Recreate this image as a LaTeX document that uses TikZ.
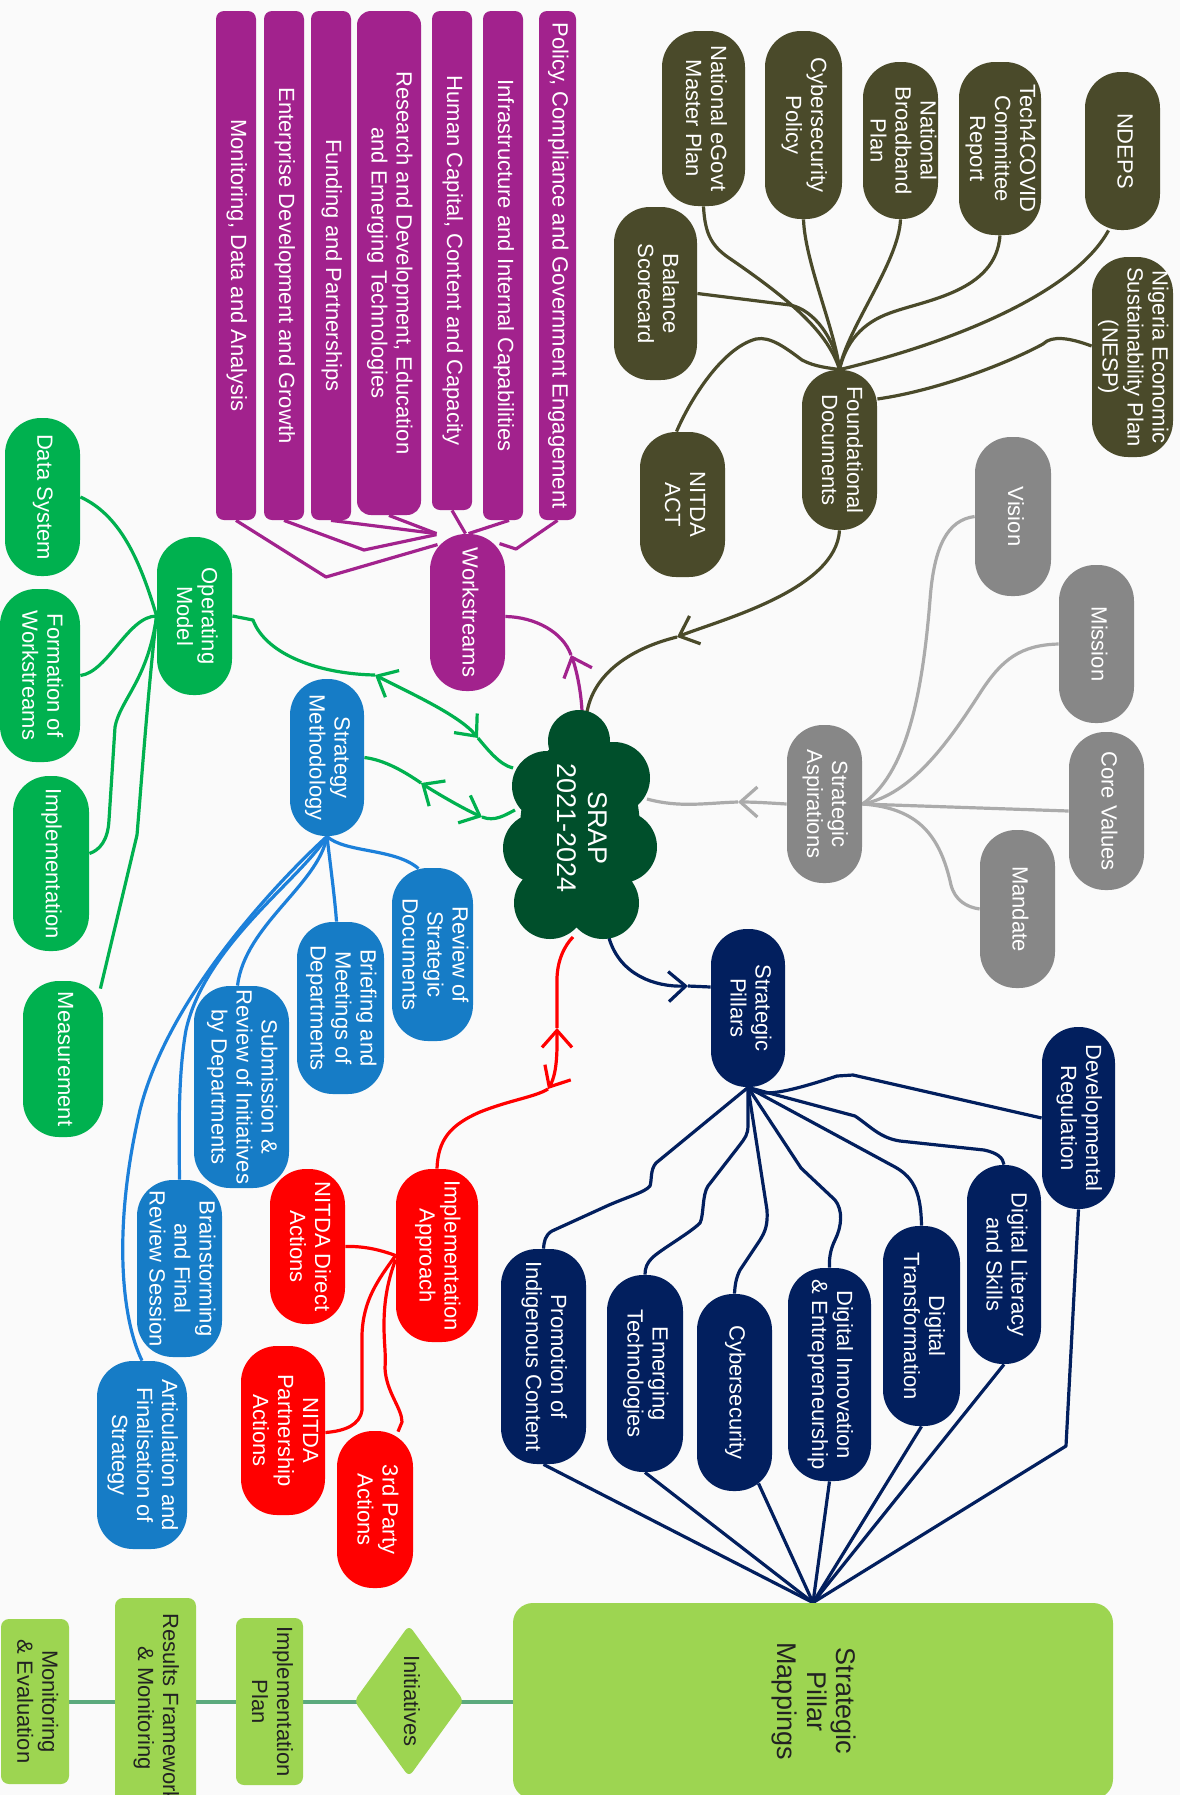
\documentclass[tikz,border=0pt]{standalone}
\usepackage{fontspec}
\setmainfont{Liberation Sans}
\usepackage{graphicx}
\usetikzlibrary{shapes.symbols,shapes.geometric,arrows.meta,calc}
\pgfdeclarelayer{back}
\pgfdeclarelayer{bg}
\pgfsetlayers{back,bg,main}
\definecolor{cpurple}{HTML}{A2228D}
\definecolor{colive}{HTML}{4A4A2A}
\definecolor{cgreynode}{HTML}{878787}
\definecolor{cgreyline}{HTML}{ABABAB}
\definecolor{cgreen}{HTML}{00B14F}
\definecolor{cblue}{HTML}{167CC6}
\definecolor{cblueline}{HTML}{1C80DA}
\definecolor{cnavy}{HTML}{021F5E}
\definecolor{cred}{HTML}{FF0000}
\definecolor{csrap}{HTML}{004F2B}
\definecolor{clime}{HTML}{9DD551}
\definecolor{clegline}{HTML}{5BAA7D}
\definecolor{cbg}{HTML}{FAFAFA}
\definecolor{cdark}{HTML}{222222}
\newcommand{\vt}[1]{\rotatebox{-90}{\begin{tabular}{@{}c@{}}#1\end{tabular}}}
\begin{document}
\begin{tikzpicture}[x=0.5pt,y=-0.5pt,>={Straight Barb[length=8.5pt,width=15pt]}]
\tikzset{
  nd/.style={inner sep=0pt, text=white, font=\fontsize{11}{12.5}\selectfont, rounded corners=18pt},
  sz/.style 2 args={minimum width=#1*0.5pt, minimum height=#2*0.5pt},
  wsb/.style={nd, fill=cpurple, rounded corners=4pt},
  pur/.style={nd, fill=cpurple},
  olv/.style={nd, fill=colive},
  gry/.style={nd, fill=cgreynode},
  grn/.style={nd, fill=cgreen},
  blu/.style={nd, fill=cblue},
  nav/.style={nd, fill=cnavy},
  rdn/.style={nd, fill=cred},
  lgd/.style={nd, fill=clime, text=cdark, rounded corners=4pt},
  con/.style={line width=1.6pt, line join=round},
}
\begin{pgfonlayer}{back}
\fill[cbg] (0,0) rectangle (1180,1795);
\end{pgfonlayer}
\useasboundingbox (0,0) rectangle (1180,1795);

% workstreams
\node[wsb,sz={40}{509}] (mon) at (236,265.5) {\vt{Monitoring, Data and Analysis}};
\node[wsb,sz={40}{509}] (ent) at (284,265.5) {\vt{Enterprise Development and Growth}};
\node[wsb,sz={40}{509}] (fund) at (331,265.5) {\vt{Funding and Partnerships}};
\node[wsb,sz={64}{504},rounded corners=7pt] (res) at (389,263) {\vt{Research and Development, Education\\and Emerging Technologies}};
\node[wsb,sz={40}{499}] (hum) at (452,260.5) {\vt{Human Capital, Content and Capacity}};
\node[wsb,sz={40}{509}] (inf) at (503,265.5) {\vt{Infrastructure and Internal Capabilities}};
\node[wsb,sz={37}{509}] (pol) at (557.5,265.5) {\vt{Policy, Compliance and Government Engagement}};
\node[pur,sz={75}{157}] (ws) at (467.5,612.5) {\vt{Workstreams}};

% operating model
\node[grn,sz={75}{158}] (om) at (194.5,616) {\vt{Operating\\Model}};
\node[grn,sz={75}{158}] (ds) at (42.5,497) {\vt{Data System}};
\node[grn,sz={80}{173}] (fw) at (40,675.5) {\vt{Formation of\\Workstreams}};
\node[grn,sz={76}{175}] (impl) at (51,863.5) {\vt{Implementation}};
\node[grn,sz={80}{156}] (meas) at (63,1059) {\vt{Measurement}};

% strategy methodology
\node[blu,sz={74}{157}] (sm) at (327,757.5) {\vt{Strategy\\Methodology}};
\node[blu,sz={81}{173}] (rsd) at (432.5,954.5) {\vt{Review of\\Strategic\\Documents}};
\node[blu,sz={87}{172}] (bmd) at (340.5,1008) {\vt{Briefing and\\Meetings of\\Departments}};
\node[blu,sz={95}{202}] (sub) at (241.5,1087) {\vt{Submission \&\\Review of Initiatives\\by Departments}};
\node[blu,sz={85}{177}] (bfr) at (179.5,1268.5) {\vt{Brainstorming\\and Final\\Review Session}};
\node[blu,sz={90}{188}] (art) at (142,1455) {\vt{Articulation and\\Finalisation of\\Strategy}};

% implementation approach
\node[rdn,sz={82}{173}] (ia) at (437,1255.5) {\vt{Implementation\\Approach}};
\node[rdn,sz={75}{155}] (nda) at (307.5,1246.5) {\vt{NITDA Direct\\Actions}};
\node[rdn,sz={84}{169}] (npa) at (283,1430.5) {\vt{NITDA\\Partnership\\Actions}};
\node[rdn,sz={76}{157}] (tpa) at (375,1509.5) {\vt{3rd Party\\Actions}};

% foundational documents
\node[olv,sz={83}{175}] (eg) at (703.5,118.5) {\vt{National eGovt\\Master Plan}};
\node[olv,sz={77}{188}] (cp) at (803.5,125) {\vt{Cybersecurity\\Policy}};
\node[olv,sz={75}{157}] (nb) at (900.5,140.5) {\vt{National\\Broadband\\Plan}};
\node[olv,sz={82}{173}] (t4c) at (1000,148.5) {\vt{Tech4COVID\\Committee\\Report}};
\node[olv,sz={75}{158}] (ndeps) at (1122.5,151) {\vt{NDEPS}};
\node[olv,sz={83}{173}] (bs) at (655.5,293.5) {\vt{Balance\\Scorecard}};
\node[olv,sz={81}{200}] (nesp) at (1132.5,357) {\vt{Nigeria Economic\\Sustainability Plan\\(NESP)}};
\node[olv,sz={85}{145}] (nact) at (682.5,504.5) {\vt{NITDA\\ACT}};
\node[olv,sz={75}{160}] (fd) at (839.5,450) {\vt{Foundational\\Documents}};

% strategic aspirations
\node[gry,sz={75}{158}] (sa) at (824.5,804) {\vt{Strategic\\Aspirations}};
\node[gry,sz={76}{159}] (vis) at (1013,516.5) {\vt{Vision}};
\node[gry,sz={75}{158}] (mis) at (1096.5,644) {\vt{Mission}};
\node[gry,sz={75}{158}] (cv) at (1106.5,811) {\vt{Core Values}};
\node[gry,sz={75}{158}] (man) at (1017.5,909) {\vt{Mandate}};

% strategic pillars
\node[nav,sz={74}{158}] (sp) at (748,1008) {\vt{Strategic\\Pillars}};
\node[nav,sz={73}{182}] (dr) at (1078.5,1118) {\vt{Developmental\\Regulation}};
\node[nav,sz={74}{199}] (dl) at (1004,1264.5) {\vt{Digital Literacy\\and Skills}};
\node[nav,sz={77}{200}] (dt) at (921.5,1326) {\vt{Digital\\Transformation}};
\node[nav,sz={83}{213}] (di) at (829.5,1374.5) {\vt{Digital Innovation\\\& Entrepreneurship}};
\node[nav,sz={75}{197}] (cy) at (734.5,1392.5) {\vt{Cybersecurity}};
\node[nav,sz={76}{197}] (em) at (645,1373.5) {\vt{Emerging\\Technologies}};
\node[nav,sz={85}{215}] (pr) at (543.5,1356.5) {\vt{Promotion of\\Indigenous Content}};

% legend row
\node[lgd,sz={600}{196},rounded corners=10pt,font=\fontsize{13.5}{14.8}\selectfont] (spm) at (813,1701) {\vt{Strategic\\Pillar\\Mappings}};
\node[lgd,sz={68}{165}] (me) at (35,1701.5) {\vt{Monitoring\\\& Evaluation}};
\node[lgd,sz={81}{220}] (rfm) at (155.5,1708) {\vt{Results Framework\\\& Monitoring}};
\node[lgd,sz={67}{167}] (ip) at (269.5,1701.5) {\vt{Implementation\\Plan}};
\node[lgd,shape=diamond,rounded corners=3pt,aspect=0.72,sz={110}{152}] (ini) at (409,1701) {\vt{Initiatives}};

% central cloud (drawn as lobes)
\fill[csrap] (579,741) circle[radius=31] (614,778) circle[radius=36] (621,847) circle[radius=36]
  (603,903) circle[radius=36] (550,903) circle[radius=36] (538,848) circle[radius=35]
  (547,786) circle[radius=35] (580,830) ellipse[x radius=60, y radius=94];
\node[inner sep=0pt, text=white, minimum width=156*0.5pt, minimum height=230*0.5pt,
  font=\fontsize{13.5}{15.5}\selectfont] (srap) at (579,828) {\vt{SRAP\\2021-2024}};

\coordinate (wsA) at (571,655);
\coordinate (fdA) at (677,637);
\coordinate (saA) at (738,802);
\coordinate (spA) at (688,986);
\coordinate (omA) at (375,675);
\coordinate (omB) at (478,738);
\coordinate (smA) at (421,783);
\coordinate (smB) at (482,817);
\coordinate (iaA) at (548,1089);
\coordinate (iaB) at (557,1028);

\begin{pgfonlayer}{bg}
% purple fan
\draw[cpurple,con] (mon.south) -- (326,577) -- ($(ws.north)+(-30,11)$);
\draw[cpurple,con] (ent.south) -- (364,550) -- ($(ws.north)+(-31,1)$);
\draw[cpurple,con] (fund.south) -- ($(ws.north)+(-31,0)$);
\draw[cpurple,con] (res.south) -- ($(ws.north)+(-31,0)$);
\draw[cpurple,con] (hum.south) -- ($(ws.north)+(-2,0)$);
\draw[cpurple,con] ($(inf.south)+(6,0)$) -- ($(ws.north)+(1,0)$);
\draw[cpurple,con] (pol.south) -- (516,549) -- ($(ws.north)+(32,10)$);
% green fan
\draw[cgreen,con] (ds.east) .. controls (120,515) and (140,560) .. (om.west);
\draw[cgreen,con] (fw.east) .. controls (108,672) and (128,616) .. (om.west);
\draw[cgreen,con] ($(impl.east)+(0,-10)$) .. controls (100,850) and (108,840) .. (109,820) -- (115,727) .. controls (120,700) and (148,680) .. (om.west);
\draw[cgreen,con] (om.west) .. controls (148,690) and (140,800) .. (137,835) -- ($(meas.north east)+(-3,8)$);
% blue fan
\draw[cblueline,con] (sm.south) .. controls (345,853) and (395,848) .. ($(rsd.north)+(-14,1)$);
\draw[cblueline,con] (sm.south) .. controls (331,870) and (335,900) .. ($(bmd.north)+(-4,0)$);
\draw[cblueline,con] (sm.south) .. controls (318,885) and (245,925) .. ($(sub.north)+(-4,0)$);
\draw[cblueline,con] (sm.south) .. controls (300,880) and (205,945) .. (186,1030) .. controls (178,1075) and (179,1130) .. (bfr.north);
\draw[cblueline,con] (sm.south) .. controls (290,870) and (170,990) .. (140,1110) .. controls (112,1230) and (122,1320) .. (art.north);
% red fan
\draw[cred,con] (nda.east) .. controls (362,1246) and (378,1249) .. (ia.west);
\draw[cred,con] (ia.west) .. controls (378,1280) and (363,1300) .. (362,1335) -- (362,1410) .. controls (360,1425) and (345,1431) .. ($(npa.east)+(0,2)$);
\draw[cred,con] ($(ia.west)+(0,4)$) .. controls (388,1280) and (384,1300) .. (384,1325) .. controls (384,1345) and (386,1352) .. (385,1368) .. controls (386,1392) and (402,1408) .. (402,1422) -- ($(tpa.north)+(23,1)$);
% olive fan
\draw[colive,con] (eg.south) .. controls (705,235) and (712,247) .. (732,260) .. controls (790,300) and (828,332) .. (fd.north);
\draw[colive,con] (bs.east) -- (790,305) .. controls (815,310) and (835,340) .. (fd.north);
\draw[colive,con] (cp.south) .. controls (805,262) and (835,330) .. (fd.north);
\draw[colive,con] (nb.south) .. controls (899,262) and (846,330) .. (fd.north);
\draw[colive,con] (t4c.south) .. controls (996,292) and (925,300) .. (890,313) .. controls (862,323) and (846,342) .. (fd.north);
\draw[colive,con] ($(ndeps.south)+(-14,0)$) .. controls (1075,292) and (955,342) .. (fd.north);
\draw[colive,con] ($(nesp.west)+(0,-11)$) .. controls (1070,338) and (1052,335) .. (1043,344) .. controls (1010,362) and (940,390) .. ($(fd.east)+(0,-51)$);
\draw[colive,con] ($(nact.north)+(-6,0)$) .. controls (690,400) and (722,348) .. (756,339) .. controls (770,336) and (786,348) .. (802,360) .. controls (815,367) and (830,368) .. (fd.north);
% grey fan
\draw[cgreyline,con] (vis.west) .. controls (948,520) and (934,545) .. (930,600) .. controls (922,700) and (905,775) .. (sa.east);
\draw[cgreyline,con] (mis.west) .. controls (1020,645) and (1002,660) .. (982,690) .. controls (950,740) and (912,795) .. (sa.east);
\draw[cgreyline,con] (cv.west) -- (sa.east);
\draw[cgreyline,con] (man.west) .. controls (966,907) and (955,900) .. (951,885) .. controls (940,835) and (918,808) .. (sa.east);
% navy fan
\draw[cnavy,con] (sp.south) .. controls (760,1098) and (785,1093) .. (837,1076) -- (853,1075) -- (dr.west);
\draw[cnavy,con] (sp.south) -- (855,1116) .. controls (870,1126) and (880,1138) .. (900,1141) -- (984,1150) .. controls (998,1153) and (1003,1158) .. (dl.north);
\draw[cnavy,con] (sp.south) -- (895,1167) .. controls (915,1178) and (921,1195) .. (dt.north);
\draw[cnavy,con] (sp.south) -- (801,1168) -- (835,1200) .. controls (843,1210) and (842,1226) .. (835,1240) .. controls (830,1250) and (829,1260) .. (di.north);
\draw[cnavy,con] (sp.south) -- (767,1210) .. controls (768,1225) and (765,1232) .. (760,1240) -- (740,1270) .. controls (736,1278) and (735,1285) .. (cy.north);
\draw[cnavy,con] (sp.south) -- (748,1125) .. controls (748,1135) and (745,1138) .. (739,1146) -- (708,1186) .. controls (702,1195) and (704,1215) .. (700,1223) .. controls (690,1233) and (660,1250) .. (652,1258) .. controls (647,1263) and (645,1268) .. (em.north);
\draw[cnavy,con] (sp.south) -- (656,1163) .. controls (650,1170) and (652,1180) .. (650,1186) .. controls (645,1192) and (630,1196) .. (609,1205) -- (552,1231) .. controls (545,1235) and (544,1242) .. (pr.north);
\draw[cnavy,con] (pr.south) -- (spm.north);
\draw[cnavy,con] (em.south) -- (spm.north);
\draw[cnavy,con] ($(cy.south)+(24,-8)$) -- (spm.north);
\draw[cnavy,con] (di.south) -- (spm.north);
\draw[cnavy,con] (dt.south) -- (spm.north);
\draw[cnavy,con] (dl.south) -- (spm.north);
\draw[cnavy,con] (dr.south) -- (1066,1446) -- (spm.north);
% legend line
\draw[clegline,line width=2pt] (me.east) -- (me.east -| spm.west);
% first level connectors
\draw[cpurple,con,->] ($(srap.center)+(3,-117)$) .. controls (581,690) and (576,668) .. (wsA);
\draw[cpurple,con] (wsA) .. controls (563,632) and (535,617) .. ($(ws.east)+(0,4)$);
\draw[colive,con,->] (fd.south) .. controls (836,590) and (720,620) .. (fdA);
\draw[colive,con] (fdA) .. controls (640,646) and (595,668) .. ($(srap.center)+(8,-116)$);
\draw[cgreyline,con,->] (sa.west) .. controls (770,803) and (755,802) .. (saA);
\draw[cgreyline,con] (saA) .. controls (705,803) and (680,808) .. ($(srap.center)+(68,-29)$);
\draw[cnavy,con,->] ($(srap.center)+(30,110)$) .. controls (620,975) and (655,987) .. (spA);
\draw[cnavy,con] (spA) -- ($(sp.west)+(0,-21)$);
\draw[cgreen,con] (om.east) -- (253,620) .. controls (266,655) and (320,674) .. (omA);
\draw[cgreen,con,<->] (omA) .. controls (410,693) and (459,715) .. (omB);
\draw[cgreen,con] (omB) .. controls (488,750) and (500,765) .. ($(srap.center)+(-66,-60)$);
\draw[cgreen,con] (sm.east) .. controls (385,760) and (405,772) .. (smA);
\draw[cgreen,con,<->] (smA) .. controls (438,794) and (464,809) .. (smB);
\draw[cgreen,con] (smB) .. controls (495,822) and (505,815) .. ($(srap.center)+(-64,-18)$);
\draw[cred,con] (ia.north) .. controls (438,1140) and (450,1125) .. (480,1112) .. controls (510,1100) and (535,1097) .. (iaA);
\draw[cred,con,<->] (iaA) .. controls (558,1072) and (557,1045) .. (iaB);
\draw[cred,con] (iaB) -- (557,980) .. controls (557,960) and (565,945) .. ($(srap.center)+(-6,109)$);
\end{pgfonlayer}
\end{tikzpicture}
\end{document}
